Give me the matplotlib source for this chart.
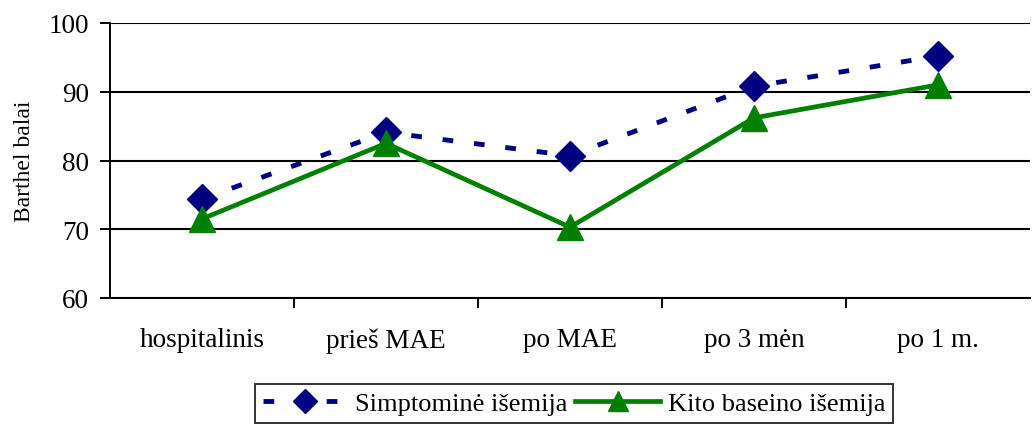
import numpy as np
import matplotlib.pyplot as plt
from matplotlib.ticker import FixedLocator, NullFormatter

# Barthel scores by time point
categories = ['hospitalinis', 'prieš MAE', 'po MAE', 'po 3 mėn', 'po 1 m.']
simptomine = [74.4, 84.1, 80.7, 90.8, 95.2]
kito_baseino = [71.5, 82.5, 70.3, 86.2, 91.0]
yticks = [60, 70, 80, 90, 100]

plt.rcParams['font.family'] = ['Liberation Serif', 'DejaVu Serif']

fig = plt.figure(figsize=(10.33, 4.27), dpi=100)
ax = fig.add_axes([110 / 1033, 1 - 299 / 427, 920 / 1033, 275 / 427])

x = np.arange(len(categories))
ax.plot(x, simptomine, color='#000080', lw=3.5, ls=(0, (2.2, 4.3)),
        marker='D', ms=15, label='Simptominė išemija', zorder=3)
ax.plot(x, kito_baseino, color='#008000', lw=3.4, ls='-',
        marker='^', ms=19, label='Kito baseino išemija', zorder=4)

ax.set_xlim(-0.5, len(categories) - 0.5)
ax.set_ylim(60, 100)
ax.set_yticks(yticks)
ax.yaxis.grid(True, color='black', lw=1.5)
ax.set_axisbelow(True)

ax.set_xticks(x)
ax.set_xticklabels(categories, fontsize=19.5)
ax.tick_params(axis='x', length=0, pad=21)
ax.xaxis.set_minor_locator(FixedLocator(x[:-1] + 0.5))
ax.xaxis.set_minor_formatter(NullFormatter())
ax.tick_params(axis='x', which='minor', length=7, width=1.4, direction='out')
ax.tick_params(axis='y', labelsize=19.5, length=7, width=1.4, direction='out', pad=8)

for side in ['top', 'right']:
    ax.spines[side].set_visible(False)
for side in ['left', 'bottom']:
    ax.spines[side].set_linewidth(1.4)

ax.set_ylabel('Barthel balai', fontsize=17, labelpad=10)

leg = fig.legend(loc='upper center', bbox_to_anchor=(574 / 1033, 1 - 385 / 427),
                 ncol=2, fontsize=19, frameon=True, fancybox=False,
                 handlelength=3.2, columnspacing=0.3, handletextpad=0.3,
                 borderpad=0.3, borderaxespad=0)
leg.get_frame().set_edgecolor('black')
leg.get_frame().set_linewidth(1.4)
# smaller markers inside the legend box
leg.legend_handles[0].set_markersize(12)
leg.legend_handles[1].set_markersize(14)

fig.savefig('out.png', dpi=100)
